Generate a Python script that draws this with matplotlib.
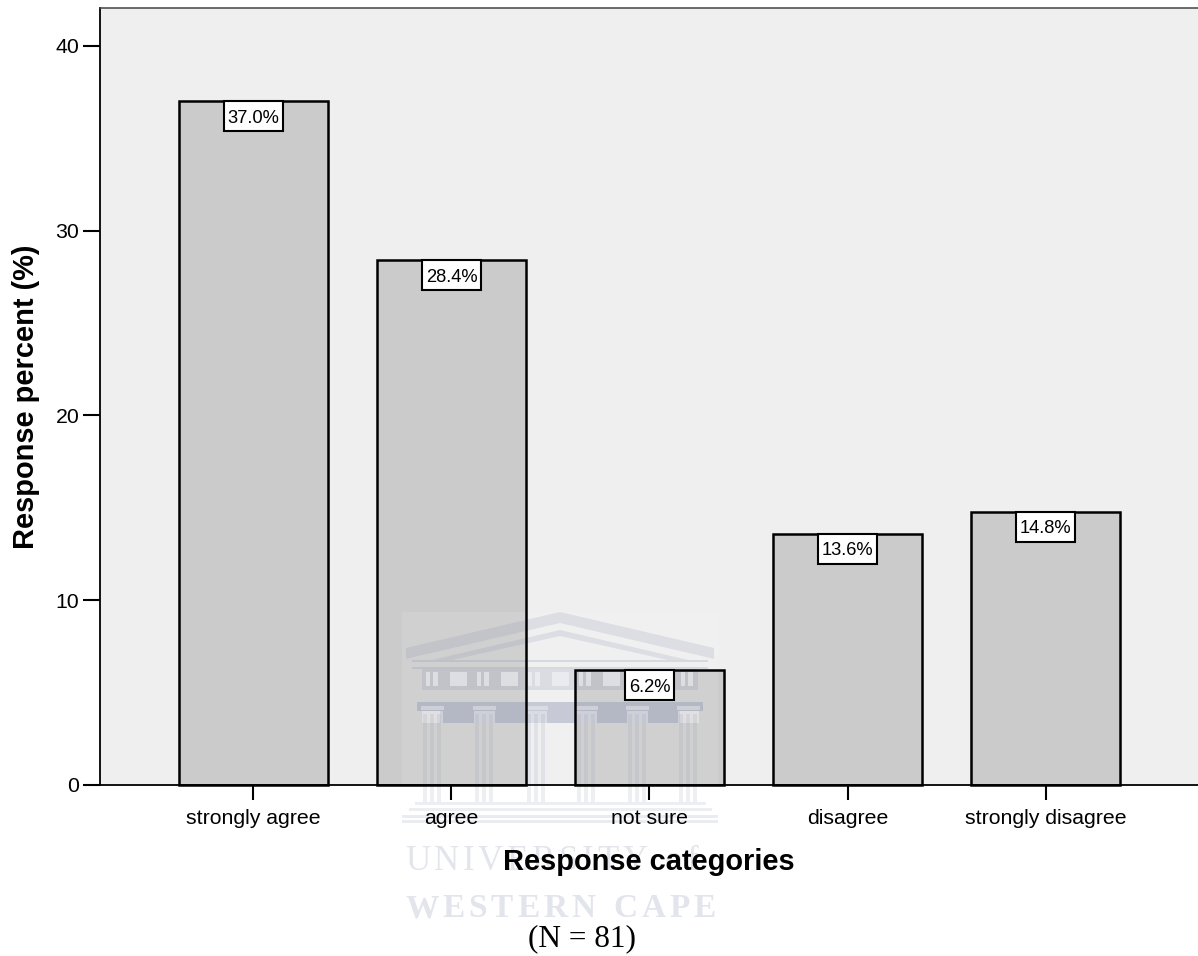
import matplotlib
matplotlib.use("Agg")
import matplotlib.pyplot as plt
from matplotlib.patches import Polygon, Rectangle
from matplotlib.transforms import Affine2D, IdentityTransform

categories = ["strongly agree", "agree", "not sure", "disagree", "strongly disagree"]
percent = [37.0, 28.4, 6.2, 13.6, 14.8]
y_ticks = [0, 10, 20, 30, 40]

W, H = 1198, 956
plt.rcParams["font.family"] = ["Liberation Sans", "DejaVu Sans"]

fig = plt.figure(figsize=(W / 100, H / 100), dpi=100, facecolor="white")
ax = fig.add_axes([100 / W, 1 - 785 / H, 1098 / W, 777 / H])
ax.set_facecolor("#efefef")
ax.set_axisbelow(False)

# fills go under the crest, outlines over it
xs = range(len(percent))
ax.bar(xs, percent, width=0.752, color="#cbcbcb", edgecolor="none", zorder=2)
ax.bar(xs, percent, width=0.752, facecolor="none", edgecolor="black", linewidth=1.8,
       zorder=2.4, clip_on=False)
ax.set_xlim(-0.775, 4.77)
ax.set_ylim(0, 42.05)

ax.set_xticks(range(len(categories)))
ax.set_xticklabels(categories)
ax.set_yticks(y_ticks)
ax.tick_params(axis="x", length=11, width=1.5, labelsize=15.3, pad=6, color="black")
ax.tick_params(axis="y", length=12, width=1.5, labelsize=15.3, pad=3, color="black")
for side in ["left", "bottom"]:
    ax.spines[side].set_linewidth(1.3)
ax.spines["top"].set_linewidth(1.1)
ax.spines["top"].set_color("#444444")
ax.spines["right"].set_visible(False)
for side in ax.spines:
    ax.spines[side].set_zorder(2.4)

# pixel coordinates, y down, for the crest behind the labels
px = Affine2D().scale(1, -1).translate(0, H)
CREST = "#8f96b4"
Z = 2.2


def crest_rect(x0, y0, x1, y1, color=CREST, alpha=0.25):
    ax.add_patch(Rectangle((x0, y0), x1 - x0, y1 - y0, transform=px, facecolor=color,
                           edgecolor="none", alpha=alpha, zorder=Z, clip_on=False))


def crest_poly(pts, color=CREST, alpha=0.25):
    ax.add_patch(Polygon(pts, closed=True, transform=px, facecolor=color,
                         edgecolor="none", alpha=alpha, zorder=Z, clip_on=False))


def spaced_text(s, x0, x1, baseline, size, weight="normal"):
    # letters are set one by one so the line fills the given span
    r = fig.canvas.get_renderer()
    parts = []
    for ch in s:
        if ch == " ":
            parts.append((None, 10))
            continue
        t = ax.text(0, baseline, ch, transform=px, family="Liberation Serif", fontsize=size,
                    fontweight=weight, color="#e3e5ec", va="baseline", ha="left", zorder=Z,
                    clip_on=False)
        parts.append((t, t.get_window_extent(r).width))
    gap = (x1 - x0 - sum(p[1] for p in parts)) / (len(parts) - 1)
    x = x0
    for t, w in parts:
        if t is not None:
            t.set_x(x)
        x += w + gap


fig.canvas.draw()

# pale panel
crest_rect(402, 612, 718, 918, color="white", alpha=0.1)
# pediment, two sloped bands
crest_poly([(406, 648), (560, 612), (714, 648), (714, 659), (706, 657), (560, 623), (414, 657), (406, 659)], alpha=0.2)
crest_poly([(432, 660), (560, 630), (688, 660), (668, 660), (560, 636), (452, 660)], alpha=0.2)
crest_rect(412, 660, 708, 662)
crest_rect(412, 667, 708, 669)
# frieze, gray with light openings
crest_rect(422, 669, 698, 690, alpha=0.22)
for start in [426, 477, 528, 579, 630, 681]:
    for x0, x1 in [(start, start + 4), (start + 7, start + 12)]:
        crest_rect(x0, 672, x1, 686, color="white", alpha=0.45)
for start in [450, 501, 552, 603, 654]:
    crest_rect(start, 672, start + 17, 686, color="white", alpha=0.45)
# darker band with column capitals
crest_rect(417, 702, 703, 711, alpha=0.42)
crest_rect(440, 711, 680, 723, alpha=0.42)
# columns
for x0 in [423, 475, 527, 577, 628, 679]:
    crest_rect(x0 - 2, 706, x0 + 21, 710, color="white", alpha=0.35)
    crest_rect(x0 - 1, 711, x0 + 20, 723, color="white", alpha=0.35)
    for dx in [0, 7, 14]:
        crest_rect(x0 + dx, 714, x0 + dx + 4, 802, alpha=0.15)
# steps
crest_rect(415, 802, 706, 805, alpha=0.16)
crest_rect(409, 808, 712, 811, alpha=0.16)
crest_rect(402, 815, 718, 818, alpha=0.18)
crest_rect(402, 820, 718, 823, alpha=0.18)

spaced_text("UNIVERSITY of", 405, 698, 870, 25)
spaced_text("WESTERN CAPE", 405, 716, 917, 24, weight="bold")

# value labels sit in a white box hanging from the top of each bar
for i, v in enumerate(percent):
    bx, by = ax.transData.transform((i, v))
    t = ax.text(bx, by - 15, f"{v:.1f}%", transform=IdentityTransform(), ha="center",
                va="center_baseline", fontsize=13.2, color="black", zorder=6, clip_on=False)
    bb = t.get_window_extent(fig.canvas.get_renderer())
    ax.add_patch(Rectangle((bb.x0 - 3.5, by - 30), bb.width + 7, 30, transform=IdentityTransform(),
                           facecolor="white", edgecolor="black", linewidth=1.5, zorder=5,
                           clip_on=False))

fig.text(12 / W, 1 - 397 / H, "Response percent (%)", rotation=90, fontsize=20.9,
         fontweight="bold", ha="left", va="center", color="black", zorder=4)
fig.text(648.5 / W, 1 - 862 / H, "Response categories", fontsize=20.9, fontweight="bold",
         ha="center", va="center", color="black", zorder=4)
fig.text(582 / W, 1 - 946 / H, "(N = 81)", family="Liberation Serif", fontsize=22.5,
         ha="center", va="baseline", color="black", zorder=4)

fig.savefig("out.png", dpi=100, facecolor="white")
